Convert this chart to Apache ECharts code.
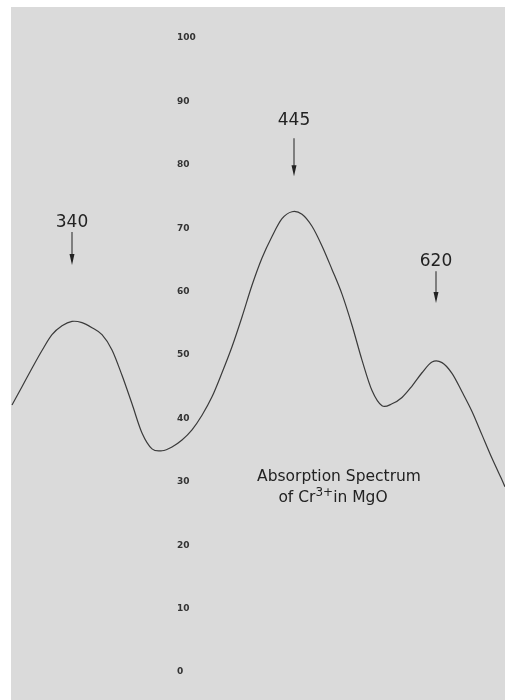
<!DOCTYPE html>
<html>
<head>
<meta charset="utf-8">
<script src="https://cdn.jsdelivr.net/npm/echarts@6/dist/echarts.min.js"></script>
<style>html,body{margin:0;padding:0;background:#fff;}#c{width:505px;height:700px;}</style>
</head>
<body>
<div id="c"></div>
<script>
// horizontal position along the trace (arbitrary chart units) and absorption values
var tracePos = [12,22,32,42,52,62,72,82,92,102,112,122,132,142,152,162,172,182,192,202,212,222,232,242,252,262,272,282,292,302,312,322,332,342,352,362,372,382,392,402,412,422,432,442,452,462,472,482,492,502,505];
var absorption = [42.1,45.0,47.9,50.7,53.2,54.6,55.3,55.1,54.3,53.2,50.8,46.8,42.3,37.7,35.2,34.9,35.5,36.6,38.2,40.5,43.4,47.2,51.3,56.0,61.0,65.3,68.7,71.5,72.6,72.2,70.3,67.2,63.5,59.6,54.7,49.2,44.4,42.0,42.3,43.3,45.1,47.2,48.9,48.8,47.1,44.2,41.1,37.4,33.7,30.3,29.2];
var yTicks = [0,10,20,30,40,50,60,70,80,90,100];
// peak annotations: label, position, arrow top / bottom (in y units)
var peakLabels = ['340','445','620'];
var peakPos = [72,294,436];
var arrowTop = [69.4,84.2,63.2];
var arrowBottom = [64.2,78.2,58.2];
var labelY = [70.9,86.9,64.8];

var chart = echarts.init(document.getElementById('c'));
var pts = tracePos.map(function(x,i){return [x, absorption[i]];});

function renderTrace(params, api) {
  var c = pts.map(function(p){ return api.coord(p); });
  var d = 'M' + c[0][0] + ' ' + c[0][1];
  for (var i = 0; i < c.length - 1; i++) {
    var p0 = c[Math.max(i - 1, 0)], p1 = c[i], p2 = c[i + 1], p3 = c[Math.min(i + 2, c.length - 1)];
    var c1x = p1[0] + (p2[0] - p0[0]) / 6, c1y = p1[1] + (p2[1] - p0[1]) / 6;
    var c2x = p2[0] - (p3[0] - p1[0]) / 6, c2y = p2[1] - (p3[1] - p1[1]) / 6;
    d += ' C' + c1x + ' ' + c1y + ' ' + c2x + ' ' + c2y + ' ' + p2[0] + ' ' + p2[1];
  }
  return {type: 'path', shape: {pathData: d},
    style: {stroke: '#3a3a3a', lineWidth: 1.2, fill: null}};
}

chart.setOption({
  backgroundColor: '#ffffff',
  animation: false,
  grid: {left: 0, right: 0, top: 38, bottom: 28},
  xAxis: {type: 'value', min: 0, max: 505, show: false},
  yAxis: {
    type: 'value', min: 0, max: 100, interval: 10,
    axisLine: {show: false}, axisTick: {show: false}, splitLine: {show: false},
    axisLabel: {
      inside: true, margin: 177, align: 'left',
      fontFamily: 'DejaVu Sans', fontWeight: 'bold', fontSize: 9, color: '#333',
      formatter: function(v){ return yTicks.indexOf(v) >= 0 ? String(v) : ''; }
    }
  },
  series: [{
    type: 'custom', name: 'Absorption', data: [pts[0]], renderItem: renderTrace,
    clip: false, silent: true, z: 5
  }]
});

var g = [{
  type: 'rect', shape: {x: 11, y: 7, width: 494, height: 693},
  style: {fill: '#dadada'}, z: -10, silent: true
}];
for (var i = 0; i < peakLabels.length; i++) {
  var pTop = chart.convertToPixel({gridIndex: 0}, [peakPos[i], arrowTop[i]]);
  var pBot = chart.convertToPixel({gridIndex: 0}, [peakPos[i], arrowBottom[i]]);
  var pLab = chart.convertToPixel({gridIndex: 0}, [peakPos[i], labelY[i]]);
  g.push({type: 'rect', shape: {x: pTop[0] - 0.5, y: pTop[1], width: 1, height: pBot[1] - pTop[1] - 6},
    style: {fill: '#222'}, z: 10});
  g.push({type: 'polygon', shape: {points: [[pBot[0] - 2.5, pBot[1] - 11], [pBot[0] + 2.5, pBot[1] - 11], [pBot[0], pBot[1]]]},
    style: {fill: '#222'}, z: 10});
  g.push({type: 'text', x: pLab[0], y: pLab[1],
    style: {text: peakLabels[i], fontFamily: 'DejaVu Sans', fontSize: 17, fill: '#222',
      textAlign: 'center', textVerticalAlign: 'middle'}, z: 10});
}
g.push({type: 'text', x: 339, y: 477,
  style: {text: 'Absorption Spectrum', fontFamily: 'DejaVu Sans', fontSize: 15.5, fill: '#222',
    textAlign: 'center', textVerticalAlign: 'middle'}, z: 10});
g.push({type: 'text', x: 333, y: 498,
  style: {text: 'of Cr{sup|3+}in MgO', fontFamily: 'DejaVu Sans', fontSize: 15.5, fill: '#222',
    textAlign: 'center', textVerticalAlign: 'middle',
    rich: {sup: {fontFamily: 'DejaVu Sans', fontSize: 12, fill: '#222', verticalAlign: 'bottom', padding: [0,0,10,0]}}}, z: 10});
chart.setOption({graphic: g});
</script>
</body>
</html>
